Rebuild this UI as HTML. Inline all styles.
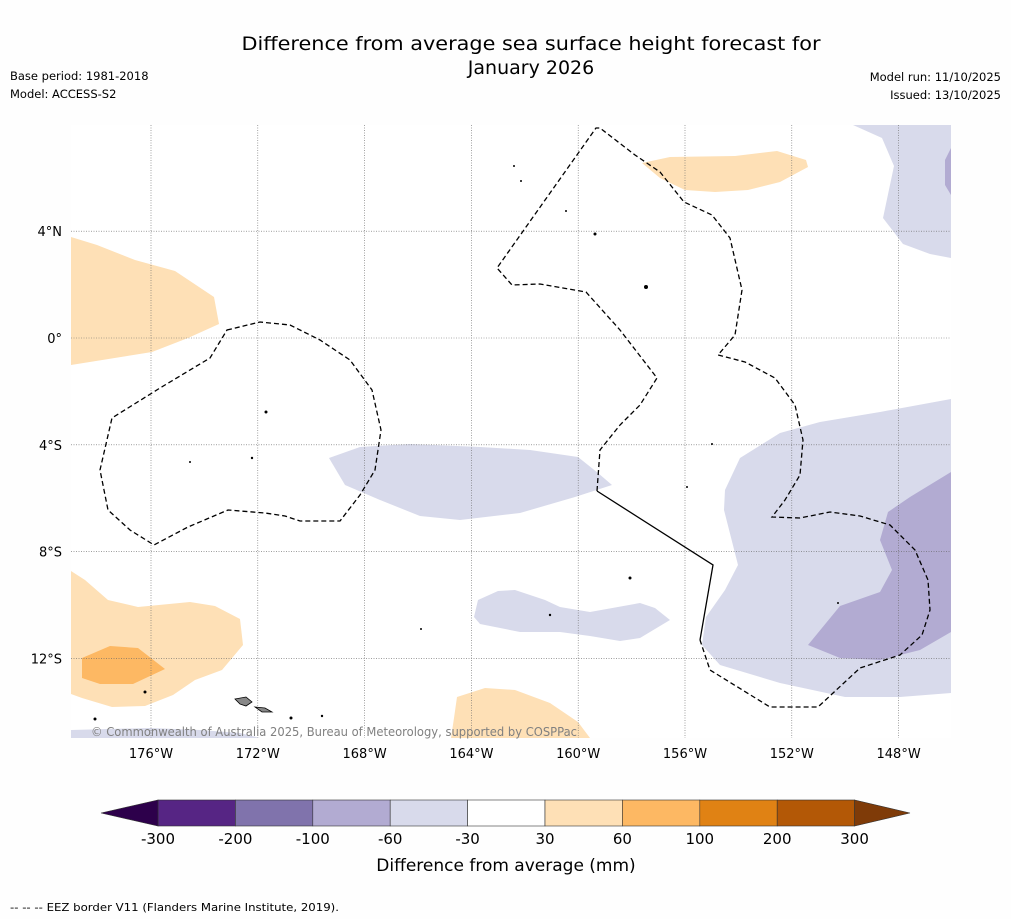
<!DOCTYPE html>
<html><head><meta charset="utf-8"><style>
body{margin:0;background:#fefefe;font-family:"DejaVu Sans","Liberation Sans",sans-serif;}
#wrap{position:relative;width:1011px;height:919px;overflow:hidden}
svg text{font-family:"DejaVu Sans","Liberation Sans",sans-serif;}
</style></head><body>
<div id="wrap">
<svg width="1011" height="919" viewBox="0 0 1011 919" xmlns="http://www.w3.org/2000/svg" id="svg">
<text x="531" y="50" text-anchor="middle" font-size="19" textLength="579" lengthAdjust="spacingAndGlyphs" fill="#000">Difference from average sea surface height forecast for</text>
<text x="531" y="74" text-anchor="middle" font-size="19" fill="#000">January 2026</text>
<text x="10" y="80" font-size="11.5">Base period: 1981-2018</text>
<text x="10" y="98" font-size="11.5">Model: ACCESS-S2</text>
<text x="1001" y="81" font-size="11.5" text-anchor="end">Model run: 11/10/2025</text>
<text x="1001" y="99" font-size="11.5" text-anchor="end">Issued: 13/10/2025</text>

<g id="map">
<rect x="71" y="125" width="880" height="613" fill="#fff"/>
<g>
<polygon fill="#fee0b6" points="642,163 670,157 735,156 777,151 806,160 808,167 780,182 748,190 715,192 685,190 660,178"/>
<polygon fill="#fee0b6" points="71,237 97,245 135,260 175,271 214,297 219,324 188,338 152,352 71,365"/>
<polygon fill="#fee0b6" points="71,571 85,580 108,600 138,607 190,602 215,606 240,619 243,645 222,670 195,680 173,695 145,706 112,707 82,698 71,694"/>
<polygon fill="#fdb863" points="82,658 110,646 138,648 165,669 133,684 100,684 82,678"/>
<polygon fill="#fee0b6" points="457,697 485,688 515,690 550,703 578,722 590,738 451,738 454,718"/>
<polygon fill="#d8daeb" points="853,125 951,125 951,258 930,254 903,244 883,218 894,166 882,138"/>
<polygon fill="#b2abd2" points="945,160 951,148 951,195 945,185"/>
<polygon fill="#d8daeb" points="329,458 360,447 410,444 480,447 530,450 578,457 598,473 612,485 575,497 520,513 460,520 420,516 380,500 345,485"/>
<polygon fill="#d8daeb" points="478,600 498,591 515,590 545,600 560,607 590,612 640,603 655,608 670,620 640,638 620,641 590,636 560,632 520,632 480,624 474,617"/>
<polygon fill="#d8daeb" points="951,399 880,412 820,422 780,433 740,458 725,490 724,510 738,565 725,590 706,617 702,645 720,665 780,683 845,697 900,697 951,693"/>
<polygon fill="#b2abd2" points="951,472 910,497 888,512 880,540 892,570 880,592 840,606 808,645 840,658 880,660 920,650 951,632"/>
<polygon fill="#d8daeb" points="71,730 150,728 200,730 240,733 260,738 71,738"/>
</g>
<g id="grid" stroke="#666" stroke-width="0.6" stroke-dasharray="1,1.5"></g>
<g fill="none" stroke="#000" stroke-width="1.3">
<path stroke-dasharray="5,3" d="M597,491 L600,450 L620,425 L640,405 L657,378 L620,330 L586,292 L540,284 L512,285 L497,268 L596,128 L600,128 L635,155 L660,172 L684,202 L712,215 L730,238 L742,290 L735,335 L718,355 L745,362 L775,378 L795,405 L803,440 L800,475 L785,500 L772,517 L800,518 L830,512 L860,516 L890,525 L915,550 L928,580 L930,610 L922,635 L900,655 L860,668 L818,707 L770,707 L710,670 L700,640"/>
<path d="M597,491 L713,565 L700,640"/>
<path stroke-dasharray="5,3" d="M227,330 L260,322 L290,325 L320,340 L350,360 L372,390 L381,430 L375,470 L360,495 L340,521 L300,521 L285,516 L265,513 L228,510 L188,527 L154,545 L130,530 L108,510 L100,470 L112,418 L160,388 L210,358 Z"/>
</g>
<g fill="#000">
<circle cx="266" cy="412" r="1.5"/><circle cx="252" cy="458" r="1.2"/><circle cx="190" cy="462" r="1"/><circle cx="595" cy="234" r="1.5"/><circle cx="646" cy="287" r="2"/><circle cx="630" cy="578" r="1.5"/><circle cx="550" cy="615" r="1.2"/><circle cx="145" cy="692" r="1.5"/><circle cx="95" cy="719" r="1.5"/><circle cx="291" cy="718" r="1.5"/><circle cx="322" cy="716" r="1.2"/><circle cx="514" cy="166" r="1"/><circle cx="521" cy="181" r="1"/><circle cx="566" cy="211" r="1"/><circle cx="712" cy="444" r="1"/><circle cx="687" cy="487" r="1"/><circle cx="838" cy="603" r="1"/><circle cx="421" cy="629" r="1"/>
<polygon fill="#888" stroke="#000" stroke-width="0.8" points="235,699 246,697 252,702 246,706 240,704"/>
<polygon fill="#888" stroke="#000" stroke-width="0.8" points="255,707 265,708 272,712 262,712"/>
</g>
<text x="334" y="736" text-anchor="middle" font-size="12" textLength="486" lengthAdjust="spacingAndGlyphs" fill="#808080">© Commonwealth of Australia 2025, Bureau of Meteorology, supported by COSPPac</text>
</g>
<g id="axes" font-size="13"></g>
<g id="cbar"></g>
<text x="506" y="871" text-anchor="middle" font-size="17">Difference from average (mm)</text>
<text x="10" y="911" font-size="11" textLength="329" lengthAdjust="spacingAndGlyphs">--  --  -- EEZ border V11 (Flanders Marine Institute, 2019).</text>
</svg>
</div>
<script>
const lonTicks=[-176,-172,-168,-164,-160,-156,-152,-148];
const latTicks=[4,0,-4,-8,-12];
const cbarLevels=[-300,-200,-100,-60,-30,30,60,100,200,300];
const cbarColors=["#562584","#8073ac","#b2abd2","#d8daeb","#ffffff","#fee0b6","#fdb863","#e08214","#b35806"];
const NS="http://www.w3.org/2000/svg";
function xLon(l){return 151+(l+176)*26.7;}
function yLat(l){return 338-l*26.7;}
function mk(t,a,p){const e=document.createElementNS(NS,t);for(const k in a)e.setAttribute(k,a[k]);p.appendChild(e);return e;}
const grid=document.getElementById('grid'),axes=document.getElementById('axes');
lonTicks.forEach(l=>{const x=xLon(l);
const g=mk('line',{x1:x,x2:x,y1:125,y2:738},grid);


const t=mk('text',{x:x,y:758,'text-anchor':'middle'},axes);t.textContent=Math.abs(l)+'°W';

});
latTicks.forEach(l=>{const y=yLat(l);
const g=mk('line',{x1:71,x2:951,y1:y,y2:y},grid);


const t=mk('text',{x:62,y:y+5,'text-anchor':'end'},axes);t.textContent=l===0?'0°':Math.abs(l)+'°'+(l>0?'N':'S');

});
const cb=document.getElementById('cbar');
const cx0=158,cw=77.4,cy=800,ch=26;
cbarColors.forEach((c,i)=>{const r=mk('rect',{x:cx0+i*cw,y:cy,width:cw,height:ch,fill:c,stroke:'#333','stroke-width':0.6},cb);

});
const lo=mk('polygon',{points:`${cx0},${cy} ${cx0},${cy+ch} 101,${cy+ch/2}`,fill:'#2d004b',stroke:'#333','stroke-width':0.6},cb);


const xe=cx0+cbarColors.length*cw;
const hi=mk('polygon',{points:`${xe},${cy} ${xe},${cy+ch} 910,${cy+ch/2}`,fill:'#7f3b08',stroke:'#333','stroke-width':0.6},cb);


cbarLevels.forEach((v,i)=>{const t=mk('text',{x:cx0+i*cw,y:844,'text-anchor':'middle','font-size':15},cb);t.textContent=v;

});
</script>
</body></html>
